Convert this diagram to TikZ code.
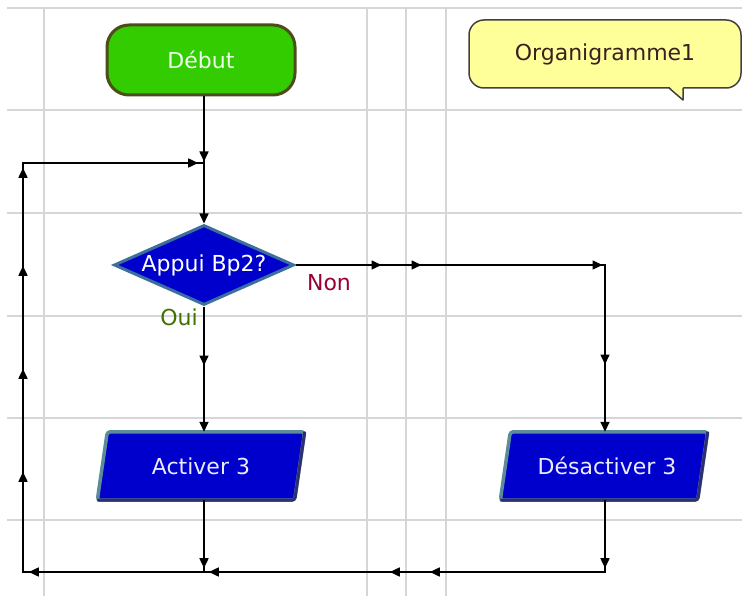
\documentclass[tikz,border=0pt]{standalone}
\usepackage{fontspec}
\setmainfont{DejaVu Sans}
\usetikzlibrary{shapes.geometric,arrows.meta,decorations.markings,backgrounds}
\definecolor{gridc}{HTML}{D6D6D6}
\definecolor{startfill}{HTML}{33CC00}
\definecolor{startdraw}{HTML}{4D4D1A}
\definecolor{bluefill}{HTML}{0000CC}
\definecolor{bluedraw}{HTML}{3C6E9E}
\definecolor{paredge}{HTML}{5B8C9A}
\definecolor{pardark}{HTML}{2E2E70}
\definecolor{nonc}{HTML}{990033}
\definecolor{ouic}{HTML}{3F7000}
\definecolor{notefill}{HTML}{FFFF99}
\definecolor{notedraw}{HTML}{404040}
\definecolor{notetext}{HTML}{3A2020}
\begin{document}
\begin{tikzpicture}[x=1pt,y=-1pt,
  every node/.style={font=\fontsize{22}{26}\selectfont},
  gridline/.style={draw=gridc,line width=1.5pt},
  startbox/.style={rectangle,rounded corners=22pt,minimum width=188pt,minimum height=70pt,
     fill=startfill,draw=startdraw,line width=3pt,text=green!8!white},
  decision/.style={diamond,aspect=2.25,minimum width=180pt,minimum height=80pt,inner sep=0pt,
     fill=bluefill,draw=bluedraw,line width=3pt,text=white},
  iobox/.style={rectangle,minimum width=197pt,minimum height=68pt,inner sep=0pt,text=blue!8!white},
  parshape/.style={fill=bluefill,draw=paredge,line width=3.5pt,rounded corners=3pt},
  pardark/.style={draw=pardark,line width=3pt,rounded corners=3pt},
  notebox/.style={rectangle,rounded corners=15pt,minimum width=272pt,minimum height=68pt,
     fill=notefill,draw=notedraw,line width=1.5pt,text=notetext},
  conn/.style={draw=black,line width=1.6pt},
  tipx/.tip={Triangle[length=10pt,width=9pt]},
  lbl/.style={inner sep=0pt}
]
\useasboundingbox (0,0) rectangle (742,596);
% grid
\begin{scope}[on background layer]
  \foreach \yy in {8,110,213,316,418,520} \draw[gridline] (7,\yy) -- (742,\yy);
  \foreach \xx in {44,367,406,446} \draw[gridline] (\xx,8) -- (\xx,596);
\end{scope}

% nodes
\node[startbox] (debut) at (201,60) {Début};
\node[decision] (dec) at (204,265) {Appui Bp2?};
\node[iobox] (act) at (201,466) {Activer 3};
\node[iobox] (des) at (604,466) {\hspace{6pt}Désactiver 3};
\node[notebox] (org) at (605,54) {Organigramme1};
\node[lbl,text=nonc] (non) at (329,283) {Non};
\node[lbl,text=ouic] (oui) at (179,317) {Oui};

% callout tail
\fill[notefill] (668.5,86) -- (683.2,86) -- (683.2,99) -- cycle;
\draw[draw=notedraw,line width=1.5pt,line join=round] (669,88) -- (683,100) -- (683,88);

% parallelogram outlines
\begin{scope}[on background layer]
  \foreach \n in {act,des} {
    \draw[parshape] ([xshift=5pt]\n.north west) -- ([xshift=5pt]\n.north east)
        -- ([xshift=-5pt]\n.south east) -- ([xshift=-5pt]\n.south west) -- cycle;
    \draw[pardark] ([xshift=5pt]\n.north east) -- ([xshift=-5pt]\n.south east) -- ([xshift=-5pt]\n.south west);
  }
\end{scope}

% coordinates
\coordinate (j1) at (204,163);
\coordinate (rt) at (605,265);
\coordinate (bl) at (23,572);
\coordinate (tl) at (23,163);
\coordinate (bm) at (204,572);
\coordinate (br) at (605,572);

% connectors
\draw[conn,postaction={decorate,decoration={markings,mark=at position 65pt with {\arrow{tipx}}}}]
  (debut.south -| j1) -- (j1);
\draw[conn,-tipx] (j1) -- (dec.north);
\draw[conn,-tipx,postaction={decorate,decoration={markings,
   mark=at position 86pt with {\arrow{tipx}},
   mark=at position 126pt with {\arrow{tipx}},
   mark=at position 307pt with {\arrow{tipx}},
   mark=at position 409pt with {\arrow{tipx}}}}]
  (dec.east) -- (rt) -- (des.north -| rt);
\draw[conn,-tipx,postaction={decorate,decoration={markings,
   mark=at position 59pt with {\arrow{tipx}}}}]
  (dec.south) -- (act.north -| dec);
\draw[conn,postaction={decorate,decoration={markings,
   mark=at position 68pt with {\arrow{tipx}}}}]
  (act.south -| dec) -- (bm);
\draw[conn,postaction={decorate,decoration={markings,
   mark=at position 68pt with {\arrow{tipx}},
   mark=at position 247pt with {\arrow{tipx}},
   mark=at position 287pt with {\arrow{tipx}},
   mark=at position 468pt with {\arrow{tipx}},
   mark=at position 648pt with {\arrow{tipx}},
   mark=at position 754pt with {\arrow{tipx}},
   mark=at position 857pt with {\arrow{tipx}},
   mark=at position 960pt with {\arrow{tipx}},
   mark=at position 1058pt with {\arrow{tipx}},
   mark=at position 1238pt with {\arrow{tipx}}}}]
  (des.south -| rt) -- (br) -- (bl) -- (tl) -- (j1);
\end{tikzpicture}
\end{document}
